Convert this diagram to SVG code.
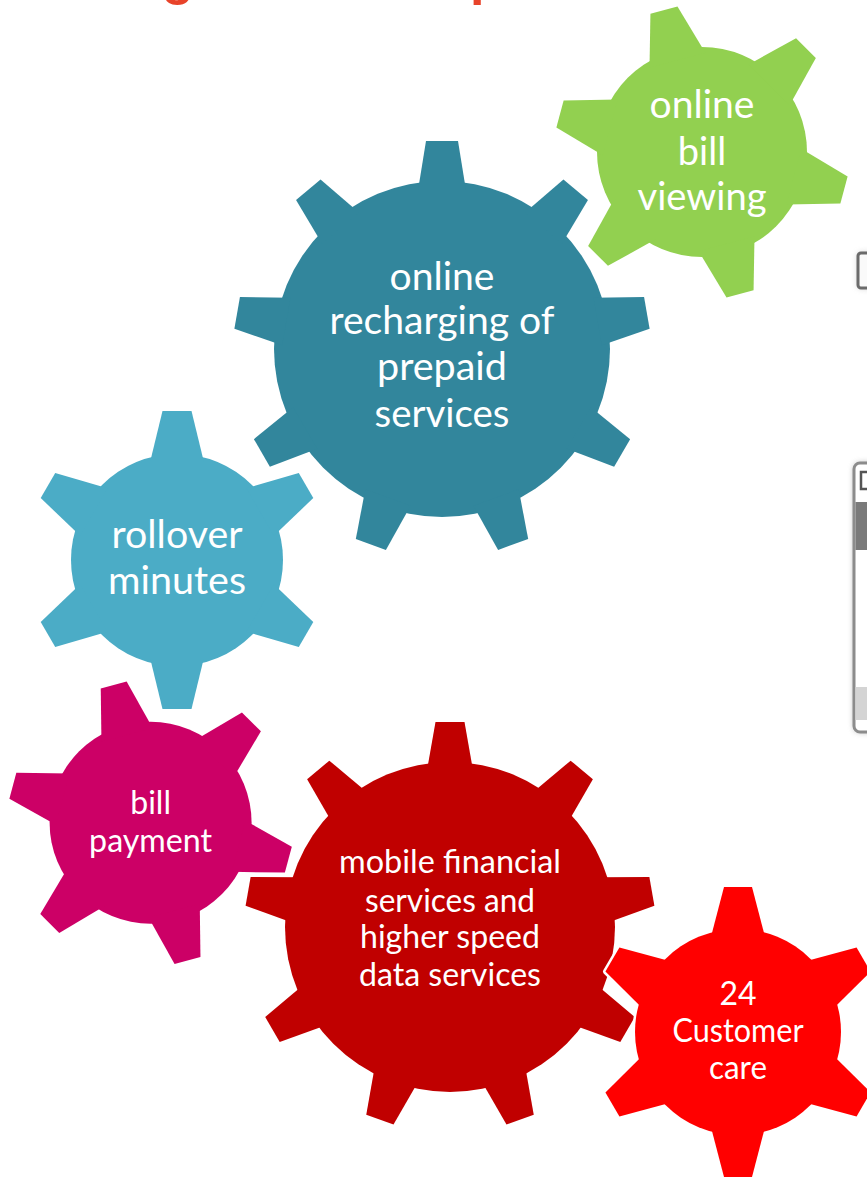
<svg xmlns="http://www.w3.org/2000/svg" xmlns:xlink="http://www.w3.org/1999/xlink" width="867" height="1177" viewBox="0 0 867 1177">
<style>
.outline{fill:#fff;stroke:#fff;stroke-width:5;stroke-linejoin:round}
.lbl{font-family:Lato,"Liberation Sans",sans-serif;fill:#fff;text-anchor:middle}
.big{font-size:38px}
.small{font-size:32px}
.title{font-family:"Liberation Sans",Arial,sans-serif;font-weight:bold;font-size:52px;fill:#E8432A}
</style>
<defs>
<filter id="sh" x="-50%" y="-50%" width="200%" height="200%"><feGaussianBlur stdDeviation="3"/></filter>
<polygon id="tt" points="-24.1,-158 -16,-208 16,-208 24.1,-158"/>
<polygon id="tg" points="-28.9,-95 -14,-147 14,-147 28.9,-95"/>
<polygon id="tr" points="-27.4,-96 -14.5,-149 14.5,-149 27.4,-96"/>
<polygon id="tp" points="-26.5,-91 -13.4,-142.6 13.4,-142.6 26.5,-91"/>
<polygon id="tm" points="-23.3,-155 -14.5,-205 14.5,-205 23.3,-155"/>
<polygon id="tc" points="-27.6,-93 -14,-145 14,-145 27.6,-93"/>
<g id="s-teal"><circle r="168"/><use xlink:href="#tt"/><use xlink:href="#tt" transform="rotate(40)"/><use xlink:href="#tt" transform="rotate(80)"/><use xlink:href="#tt" transform="rotate(120)"/><use xlink:href="#tt" transform="rotate(160)"/><use xlink:href="#tt" transform="rotate(200)"/><use xlink:href="#tt" transform="rotate(240)"/><use xlink:href="#tt" transform="rotate(280)"/><use xlink:href="#tt" transform="rotate(320)"/></g>
<g id="s-green"><circle r="105"/><use xlink:href="#tg" transform="rotate(-15)"/><use xlink:href="#tg" transform="rotate(45)"/><use xlink:href="#tg" transform="rotate(105)"/><use xlink:href="#tg" transform="rotate(165)"/><use xlink:href="#tg" transform="rotate(225)"/><use xlink:href="#tg" transform="rotate(285)"/></g>
<g id="s-roll"><circle r="106"/><use xlink:href="#tr"/><use xlink:href="#tr" transform="rotate(60)"/><use xlink:href="#tr" transform="rotate(120)"/><use xlink:href="#tr" transform="rotate(180)"/><use xlink:href="#tr" transform="rotate(240)"/><use xlink:href="#tr" transform="rotate(300)"/></g>
<g id="s-pink"><circle r="101"/><use xlink:href="#tp" transform="rotate(-15)"/><use xlink:href="#tp" transform="rotate(45)"/><use xlink:href="#tp" transform="rotate(105)"/><use xlink:href="#tp" transform="rotate(165)"/><use xlink:href="#tp" transform="rotate(225)"/><use xlink:href="#tp" transform="rotate(285)"/></g>
<g id="s-mob"><circle r="165"/><use xlink:href="#tm"/><use xlink:href="#tm" transform="rotate(40)"/><use xlink:href="#tm" transform="rotate(80)"/><use xlink:href="#tm" transform="rotate(120)"/><use xlink:href="#tm" transform="rotate(160)"/><use xlink:href="#tm" transform="rotate(200)"/><use xlink:href="#tm" transform="rotate(240)"/><use xlink:href="#tm" transform="rotate(280)"/><use xlink:href="#tm" transform="rotate(320)"/></g>
<g id="s-care"><circle r="103"/><use xlink:href="#tc"/><use xlink:href="#tc" transform="rotate(60)"/><use xlink:href="#tc" transform="rotate(120)"/><use xlink:href="#tc" transform="rotate(180)"/><use xlink:href="#tc" transform="rotate(240)"/><use xlink:href="#tc" transform="rotate(300)"/></g>
</defs>
<rect width="867" height="1177" fill="#fff"/>
<text class="title" x="162" y="-6">g</text>
<text class="title" x="470" y="-6">p</text>
<g id="side-elements">
<rect x="858" y="253" width="30" height="35" rx="3" fill="#888" filter="url(#sh)" opacity="0.5"/>
<rect x="858" y="253" width="30" height="35" rx="3" fill="#fafafa" stroke="#6b6b6b" stroke-width="3"/>
<rect x="854" y="463" width="40" height="269" rx="6" fill="#777" filter="url(#sh)" opacity="0.6"/>
<rect x="854" y="463" width="40" height="269" rx="6" fill="#fff" stroke="#8c8c8c" stroke-width="3"/>
<rect x="861" y="472" width="12" height="17" fill="none" stroke="#555" stroke-width="2.5"/>
<rect x="855.5" y="502" width="20" height="48" fill="#7a7a7a"/>
<rect x="855.5" y="687" width="20" height="33" fill="#d4d4d4"/>
</g>
<g id="gear-recharging" transform="translate(442,349)">
<use xlink:href="#s-teal" class="outline"/>
<use xlink:href="#s-teal" fill="#32869C"/>
<text class="lbl big" y="-59" textLength="105" lengthAdjust="spacingAndGlyphs">online</text>
<text class="lbl big" y="-15" textLength="225" lengthAdjust="spacingAndGlyphs">recharging of</text>
<text class="lbl big" y="31" textLength="130" lengthAdjust="spacingAndGlyphs">prepaid</text>
<text class="lbl big" y="78" textLength="135" lengthAdjust="spacingAndGlyphs">services</text>
</g>
<g id="gear-bill-viewing" transform="translate(702,152)">
<use xlink:href="#s-green" class="outline"/>
<use xlink:href="#s-green" fill="#92D050"/>
<text class="lbl big" y="-34" textLength="105" lengthAdjust="spacingAndGlyphs">online</text>
<text class="lbl big" y="13">bill</text>
<text class="lbl big" y="58" textLength="129" lengthAdjust="spacingAndGlyphs">viewing</text>
</g>
<g id="gear-rollover" transform="translate(177,560)">
<use xlink:href="#s-roll" class="outline"/>
<use xlink:href="#s-roll" fill="#4BACC6"/>
<text class="lbl big" y="-12" textLength="131" lengthAdjust="spacingAndGlyphs">rollover</text>
<text class="lbl big" y="34" textLength="138" lengthAdjust="spacingAndGlyphs">minutes</text>
</g>
<g id="gear-mobile" transform="translate(450,927)">
<use xlink:href="#s-mob" class="outline"/>
<use xlink:href="#s-mob" fill="#C00000"/>
<text class="lbl small" y="-54" textLength="222" lengthAdjust="spacingAndGlyphs">mobile financial</text>
<text class="lbl small" y="-15" textLength="170" lengthAdjust="spacingAndGlyphs">services and</text>
<text class="lbl small" y="21" textLength="180" lengthAdjust="spacingAndGlyphs">higher speed</text>
<text class="lbl small" y="59" textLength="182" lengthAdjust="spacingAndGlyphs">data services</text>
</g>
<g id="gear-bill-payment" transform="translate(150.6,822.7)">
<use xlink:href="#s-pink" class="outline"/>
<use xlink:href="#s-pink" fill="#CC0066"/>
<text class="lbl small" y="-9">bill</text>
<text class="lbl small" y="29" textLength="123" lengthAdjust="spacingAndGlyphs">payment</text>
</g>
<g id="gear-customer-care" transform="translate(738,1032)">
<use xlink:href="#s-care" class="outline"/>
<use xlink:href="#s-care" fill="#FF0000"/>
<text class="lbl small" y="-27">24</text>
<text class="lbl small" y="10" textLength="131" lengthAdjust="spacingAndGlyphs">Customer</text>
<text class="lbl small" y="47" textLength="58" lengthAdjust="spacingAndGlyphs">care</text>
</g>
<g id="connectors"/>
</svg>
